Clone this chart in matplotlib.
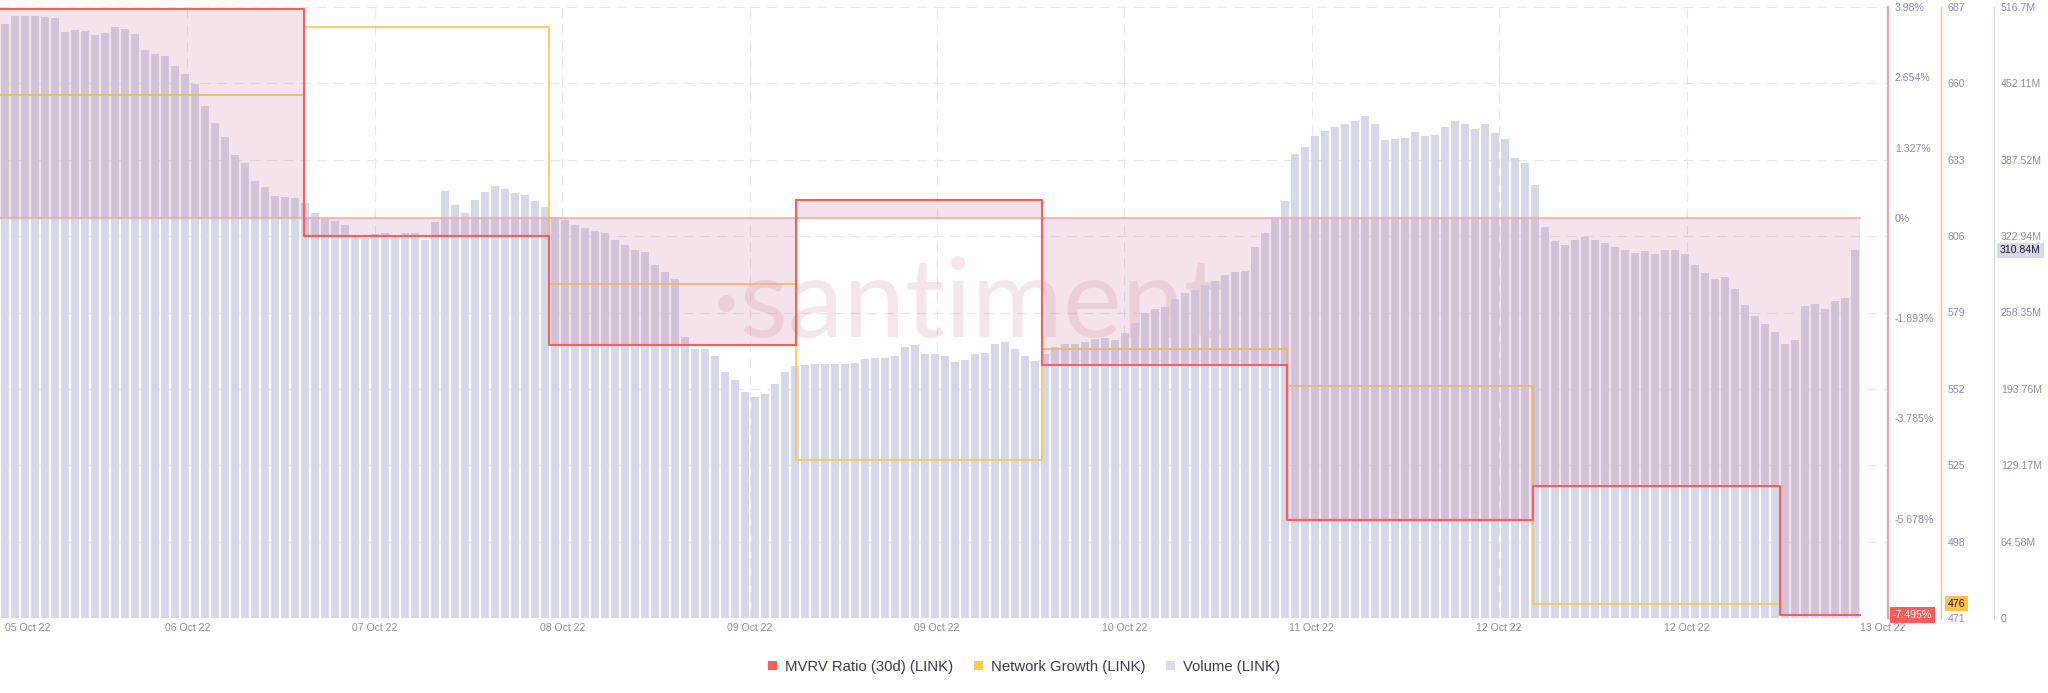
import numpy as np
import matplotlib
matplotlib.use('Agg')
import matplotlib.pyplot as plt
from matplotlib.patches import Patch

plt.rcParams['font.family'] = ['Liberation Sans', 'DejaVu Sans']
plt.rcParams['lines.scale_dashes'] = False

# daily series (MVRV 30d in %, network growth), drawn as steps
# times are hours from the left edge of the chart
day_starts = [0, 30.4, 54.9, 79.6, 104.2, 128.7, 153.3, 178.0]
mvrv = [3.94, -0.336, -2.39, 0.345, -2.785, -5.70, -5.06, -7.495]
growth = [656, 680, 589, 527, 566, 553, 476]
data_end = 186.0

# hourly volume, millions USD
volume = [
    502.3, 509.0, 509.0, 509.0, 508.3, 507.7, 495.5, 497.2, 496.5, 492.7,
    494.8, 499.6, 498.2, 493.8, 480.2, 476.8, 475.1, 466.6, 459.8, 451.3,
    432.6, 419.0, 407.1, 391.8, 385.0, 369.7, 364.7, 357.1, 356.1, 355.4,
    351.1, 342.6, 337.4, 335.7, 332.4, 323.9, 321.5, 324.6, 325.6, 322.2,
    325.6, 325.6, 319.4, 335.0, 361.3, 349.4, 342.6, 353.8, 360.3, 365.3,
    363.0, 359.6, 357.8, 352.7, 347.7, 339.1, 336.4, 332.4, 329.7, 327.3,
    325.6, 319.4,
    315.4, 311.3, 309.3, 298.4, 292.3, 287.0, 238.0, 227.1, 227.7, 221.9,
    208.4, 201.5, 191.4, 187.0, 189.7, 198.1, 208.4, 213.5, 214.1, 214.8,
    215.1, 214.8, 214.8, 215.8, 219.2, 219.5, 220.2, 221.9, 228.8, 230.5,
    223.6, 223.6, 221.9, 216.8, 218.5, 222.9, 224.3, 232.1, 233.8, 227.1,
    221.9, 217.5, 223.6, 228.8, 231.5, 232.1, 233.8, 236.2, 236.9, 235.5,
    240.6, 249.1, 257.6, 261.0, 262.7, 269.5, 274.6, 277.3, 281.4, 284.8,
    289.9, 292.3,
    293.3, 313.7, 325.6, 337.4, 352.7, 392.0, 398.7, 407.8, 412.2, 415.6,
    418.0, 420.7, 424.1, 417.4, 404.4, 405.4, 405.8, 411.2, 407.8, 408.8,
    415.6, 420.1, 418.0, 413.9, 417.4, 409.8, 405.4, 389.4, 385.0, 366.4,
    330.7, 318.7, 315.4, 319.4, 322.2, 319.8, 317.1, 313.7, 311.3, 308.6,
    310.3, 307.9, 311.3, 311.3, 307.9, 298.4, 291.6, 286.5, 288.2, 278.0,
    264.7, 255.4, 248.6, 241.9, 231.7, 235.1, 263.9, 265.6, 261.3, 268.1,
    270.6, 310.84,
]

date_labels = ['05 Oct 22', '06 Oct 22', '07 Oct 22', '08 Oct 22', '09 Oct 22',
               '09 Oct 22', '10 Oct 22', '11 Oct 22', '12 Oct 22', '12 Oct 22',
               '13 Oct 22']
mvrv_ticks = [3.98, 2.654, 1.327, 0, -1.893, -3.785, -5.678]
mvrv_ticklabels = ['3.98%', '2.654%', '1.327%', '0%', '-1.893%', '-3.785%', '-5.678%']
growth_ticks = [687, 660, 633, 606, 579, 552, 525, 498, 471]
volume_ticks = [0, 64.58, 129.17, 193.76, 258.35, 322.94, 387.52, 452.11, 516.7]
volume_ticklabels = ['0', '64.58M', '129.17M', '193.76M', '258.35M', '322.94M',
                     '387.52M', '452.11M', '516.7M']

RED = '#ff5b5b'
ORANGE = '#ffc34d'
LAVENDER = '#d5d8e9'
TICKC = '#8f8ba3'
FS = 7.6

fig = plt.figure(figsize=(20.48, 6.93), dpi=100)
ax = fig.add_axes([0, 1 - 618 / 693, 1888 / 2048, 611 / 693])
axv = ax.twinx()
axg = ax.twinx()
axm = ax.twinx()

# base axes: grid only
ax.set_xlim(0, 188.8)
ax.set_ylim(471, 687)
ax.set_yticks(growth_ticks)
tick_step = 18.74
ax.set_xticks(np.arange(1, 10) * tick_step)
ax.tick_params(left=False, labelleft=False, bottom=False, labelbottom=False)
ax.grid(True, color='#e8e5ec', lw=0.8, ls=(0, (7, 5)))
for s in ax.spines.values():
    s.set_visible(False)

ax.text(712 / 2048, 1 - 337 / 693, '\u00b7santiment', transform=fig.transFigure,
        family='Lato', fontsize=80, color='#d98c9c', alpha=0.22,
        ha='left', va='baseline')

for k, lab in enumerate(date_labels):
    x = k * tick_step
    ha = 'center'
    if k == 0:
        x, ha = 0.5, 'left'
    elif k == len(date_labels) - 1:
        x = 188.3
    ax.text(x, -10 / 611, lab, transform=ax.get_xaxis_transform(),
            ha=ha, va='center', fontsize=FS, color=TICKC)

# volume bars
axv.bar(np.arange(len(volume)) + 0.5, volume, width=0.88, color=LAVENDER, lw=0)
axv.set_ylim(0, 516.7)
axv.set_yticks(volume_ticks)
axv.set_yticklabels(volume_ticklabels)

# network growth (ends where the last day starts)
gy = growth + [growth[-1]]
axg.step(day_starts, gy, where='post', color=ORANGE, lw=1.2)
axg.set_ylim(471, 687)
axg.set_yticks(growth_ticks)

# MVRV
mx = day_starts + [data_end]
my = mvrv + [mvrv[-1]]
axm.fill_between(mx, my, 0, step='post', color='#c87396', alpha=0.2, lw=0)
axm.plot([0, data_end], [0, 0], color='#f2a3ab', lw=1.1)
axm.step(mx, my, where='post', color=RED, lw=1.5)
axm.set_ylim(-7.552, 3.98)
axm.set_yticks(mvrv_ticks)
axm.set_yticklabels(mvrv_ticklabels)

for a, pos, col, lw in [(axm, 1.0, '#eba4ac', 1.6),
                        (axg, 1941 / 1888, '#f8c662', 1.0),
                        (axv, 1994 / 1888, '#cdd0e3', 0.8)]:
    a.set_xlim(0, 188.8)
    for name, s in a.spines.items():
        s.set_visible(name == 'right')
    a.spines['right'].set_position(('axes', pos))
    a.spines['right'].set_color(col)
    a.spines['right'].set_linewidth(lw)
    a.tick_params(axis='y', length=0, pad=5, labelsize=FS, labelcolor=TICKC)
    a.tick_params(axis='x', bottom=False, labelbottom=False)

# last-value badges
axv.text(2000 / 1888, 310.84, '310.84M', transform=axv.get_yaxis_transform(),
         ha='left', va='center', fontsize=FS, color='#15152a',
         bbox=dict(boxstyle='square,pad=0.25', fc='#d8dae8', ec='none'))
axg.text(1948 / 1888, 476, '476', transform=axg.get_yaxis_transform(),
         ha='left', va='center', fontsize=FS, color='#15152a',
         bbox=dict(boxstyle='square,pad=0.25', fc=ORANGE, ec='none'))
axm.text(1893 / 1888, -7.495, '-7.495%', transform=axm.get_yaxis_transform(),
         ha='left', va='center', fontsize=FS, color='white',
         bbox=dict(boxstyle='square,pad=0.25', fc=RED, ec='none'))

handles = [Patch(facecolor=RED, label='MVRV Ratio (30d) (LINK)'),
           Patch(facecolor='#ffc857', label='Network Growth (LINK)'),
           Patch(facecolor='#d8dbe8', label='Volume (LINK)')]
fig.legend(handles=handles, loc='center', bbox_to_anchor=(0.5, 1 - 667 / 693),
           ncol=3, frameon=False, fontsize=10.7, labelcolor='#3b3b4f',
           handlelength=0.6, handleheight=0.6, handletextpad=0.55,
           columnspacing=1.4)

fig.savefig('out.png', dpi=100, facecolor='white')
